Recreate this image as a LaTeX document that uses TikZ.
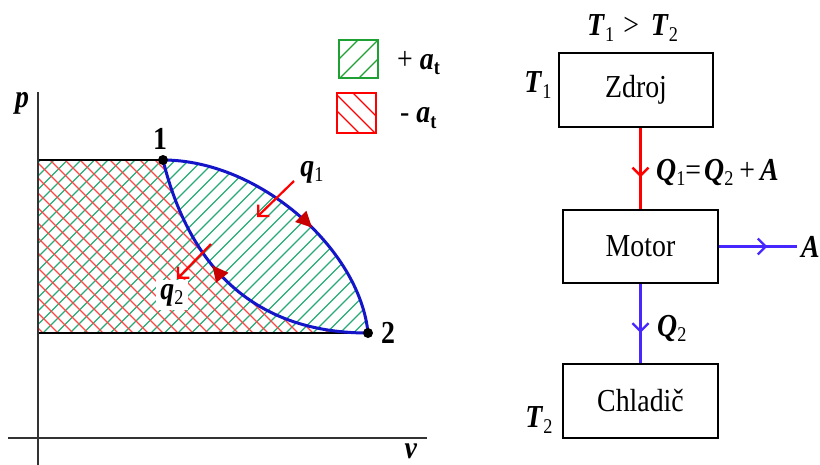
\documentclass[tikz,border=0pt]{standalone}
\usepackage{fontspec}
\setmainfont{Liberation Serif}[FakeStretch=0.87]
\usetikzlibrary{arrows.meta,decorations.markings}
\definecolor{hgreen}{RGB}{40,170,120}
\definecolor{lgreen}{RGB}{30,160,50}
\definecolor{hred}{RGB}{255,70,70}
\definecolor{cblue}{RGB}{20,20,200}
\definecolor{ablue}{RGB}{70,40,255}
\definecolor{tri}{RGB}{200,0,0}
\newcommand\bi[1]{\textbf{\textit{#1}}}
\newcommand\lsub[1]{\raisebox{-0.35ex}{\fontsize{21}{21}\selectfont #1}}
\newcommand\bsub[1]{\raisebox{-0.35ex}{\fontsize{21}{21}\selectfont\bfseries #1}}
\tikzset{
  lbl/.style={font=\fontsize{32}{36}\selectfont, inner sep=0pt},
  boxnode/.style={draw=black, line width=2.6pt, font=\fontsize{32}{36}\selectfont},
  hatchg/.style={draw=hgreen, line width=1.2pt},
  hatchr/.style={draw=hred, line width=1.2pt},
  curve/.style={draw=cblue, line width=3pt},
  tmark/.style={postaction={decorate, decoration={markings,
      mark=at position #1 with {\arrow[tri]{Triangle[length=16pt,width=15pt]}}}}},
  flowred/.style={draw=red, line width=2.6pt, postaction={decorate, decoration={markings,
      mark=at position #1 with {\arrow[red,line width=2.4pt]{Straight Barb[length=8pt,width=16pt]}}}}},
  flowblue/.style={draw=ablue, line width=2.6pt, postaction={decorate, decoration={markings,
      mark=at position #1 with {\arrow[ablue,line width=2.4pt]{Straight Barb[length=8pt,width=16pt]}}}}},
  qarrow/.style={draw=red, line width=2.2pt, -{Straight Barb[length=8pt,width=16pt]}},
  axis/.style={draw=black!80, line width=2.5pt},
  edge/.style={draw=black, line width=2pt},
}
\begin{document}
\begin{tikzpicture}[x=1pt,y=-1pt]
\useasboundingbox (0,0) rectangle (820,464);
\fill[white] (0,0) rectangle (820,464);

% ---------- p-v diagram ----------
\coordinate (p1) at (163,160);
\coordinate (p2) at (368,333);
\coordinate (ptop) at (38,92);
\coordinate (pbot) at (38,470);
\coordinate (vl) at (8,438);
\coordinate (vr) at (427,438);
\coordinate (a1) at (38,160);
\coordinate (a2) at (38,333);

% green hatch (+a_t)
\begin{scope}
\clip (a1) -- (p1) .. controls (260,160) and (360,250) .. (p2) -- (a2) -- cycle;
\foreach \c in {160,173.5,...,760} \draw[hatchg] (\c-400,400) -- (\c,0);
\end{scope}
% red hatch (-a_t)
\begin{scope}
\clip (a1) -- (p1) .. controls (185,250) and (240,333) .. (p2) -- (a2) -- cycle;
\foreach \c in {-320,-305,...,220} \draw[hatchr] (\c,0) -- (\c+400,400);
\end{scope}

\node[lbl, fill=white, inner sep=4pt] (q2) at (172,295) {\bi{q}\lsub{2}};

\draw[edge] (a1) -- (p1);
\draw[edge] (a2) -- (p2);
\draw[axis] (ptop) -- (pbot);
\draw[axis] (vl) -- (vr);

\draw[curve, tmark=0.58] (p1) .. controls (260,160) and (360,250) .. (p2);
\draw[curve, tmark=0.6] (p2) .. controls (240,333) and (185,250) .. (p1);

\fill[black] (p1) circle[radius=5];
\fill[black] (p2) circle[radius=5];
\node[lbl] (n1) at (160,139) {\textbf{1}};
\node[lbl] (n2) at (388,333) {\textbf{2}};
\node[lbl] (plab) at (22,103) {\bi{p}};
\node[lbl] (vlab) at (411,451) {\bi{v}};

\coordinate (q1s) at (294,181);
\coordinate (q1e) at (257,217);
\coordinate (q2s) at (211,244);
\coordinate (q2e) at (177,279);
\draw[qarrow] (q1s) -- (q1e);
\draw[qarrow] (q2s) -- (q2e);
\node[lbl] (q1) at (312,172) {\bi{q}\lsub{1}};

% legend
\begin{scope}
\clip (339,40) rectangle (378,78);
\foreach \c in {398,418,437} \draw[draw=lgreen, line width=1.4pt] (\c-100,100) -- (\c,0);
\end{scope}
\draw[draw=lgreen, line width=2pt] (339,40) rectangle (378,78);
\begin{scope}
\clip (337,93) rectangle (376,133);
\foreach \c in {226,242,260} \draw[draw=red, line width=1.4pt] (\c,0) -- (\c+200,200);
\end{scope}
\draw[draw=red, line width=2pt] (337,93) rectangle (376,133);
\node[lbl, anchor=west] (lg1) at (397,63) {+ \bi{a}\bsub{t}};
\node[lbl, anchor=west] (lg2) at (400,118) {- \bi{a}\bsub{t}};

% ---------- right diagram ----------
\node[boxnode, minimum width=154pt, minimum height=74pt] (zdroj) at (636,90) {Zdroj};
\node[boxnode, minimum width=155pt, minimum height=73pt] (motor) at (640.5,246.5) {Motor};
\node[boxnode, minimum width=155pt, minimum height=74pt] (chladic) at (640.5,401) {Chladič};

\node[lbl, anchor=west] (tt) at (587,28) {\bi{T}\lsub{1}\hspace{9pt}>\hspace{12pt}\bi{T}\lsub{2}};
\node[lbl] (t1) at (538,85) {\bi{T}\lsub{1}};
\node[lbl] (t2) at (539,420) {\bi{T}\lsub{2}};

\draw[flowred=0.61] (motor.north |- zdroj.south) -- (motor.north);
\node[lbl, anchor=west] (qeq) at (656,172) {\bi{Q}\lsub{1}=\hspace{3pt}\bi{Q}\lsub{2}\hspace{6pt}+\hspace{5pt}\bi{A}};

\draw[flowblue=0.62] (motor.south) -- (chladic.north);
\node[lbl, anchor=west] (q2lab) at (657,328) {\bi{Q}\lsub{2}};

\coordinate (aend) at (797,246.5);
\draw[flowblue=0.62] (motor.east) -- (aend);
\node[lbl, anchor=west] (alab) at (801,246.5) {\bi{A}};
\end{tikzpicture}
\end{document}
